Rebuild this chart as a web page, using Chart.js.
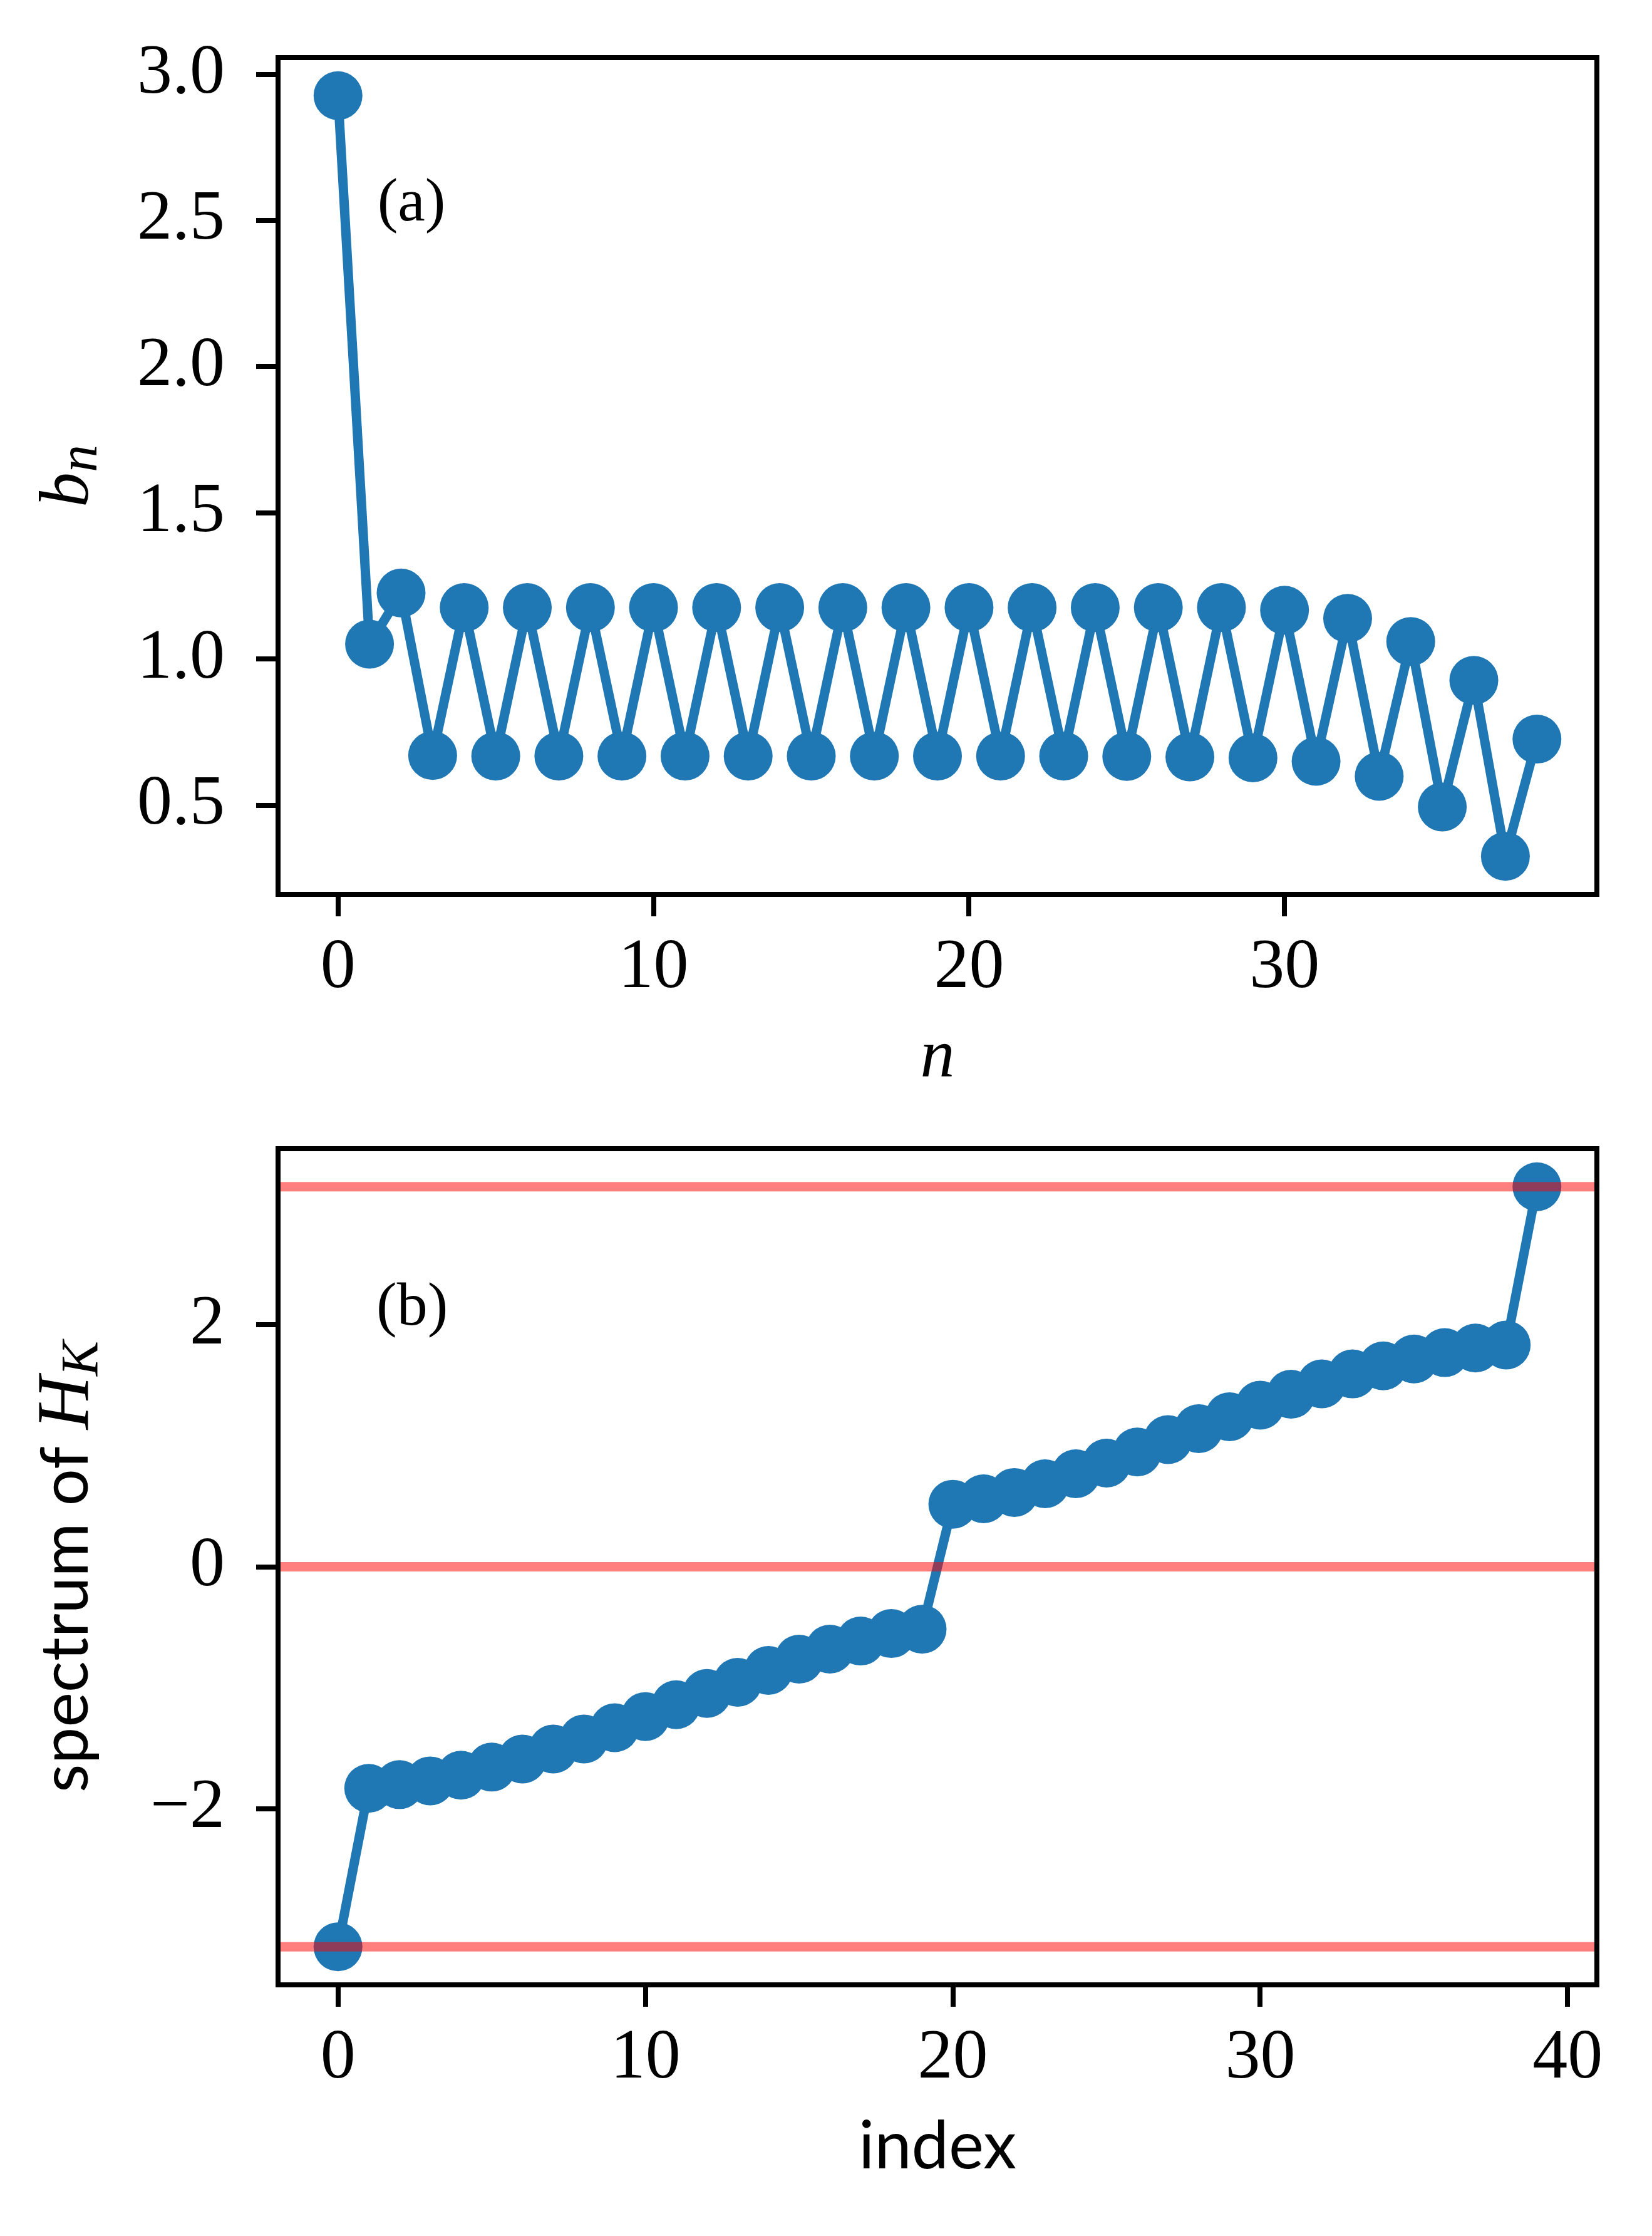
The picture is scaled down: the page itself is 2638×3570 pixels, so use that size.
<!DOCTYPE html>
<html>
<head>
<meta charset="utf-8">
<script src="https://cdn.jsdelivr.net/npm/chart.js@4.4.1/dist/chart.umd.min.js"></script>
<style>
  html, body { margin: 0; padding: 0; background: #fff; }
  .panel { position: absolute; left: 0; }
</style>
</head>
<body>
<div class="panel" style="top:0"><canvas id="chartA" width="2638" height="1790" style="width:2638px;height:1790px"></canvas></div>
<div class="panel" style="top:1790px"><canvas id="chartB" width="2638" height="1780" style="width:2638px;height:1780px"></canvas></div>
<script>
// (a) Lanczos coefficients b_n, n = 0..38
const bn = [2.927, 1.051, 1.226, 0.670, 1.176, 0.668, 1.176, 0.668, 1.176, 0.668,
            1.176, 0.668, 1.176, 0.668, 1.176, 0.668, 1.176, 0.668, 1.176, 0.668,
            1.176, 0.668, 1.176, 0.668, 1.176, 0.667, 1.176, 0.665, 1.176, 0.662,
            1.167, 0.650, 1.139, 0.599, 1.060, 0.494, 0.927, 0.325, 0.726];

// (b) spectrum of H_K, index = 0..39
const spectrum = [-3.1416, -1.831, -1.801, -1.770, -1.723, -1.656, -1.589, -1.507, -1.424, -1.331,
                  -1.238, -1.140, -1.047, -0.955, -0.857, -0.764, -0.681, -0.614, -0.552, -0.516,
                  0.517, 0.562, 0.614, 0.686, 0.769, 0.857, 0.949, 1.051, 1.142, 1.240,
                  1.336, 1.426, 1.512, 1.594, 1.661, 1.718, 1.770, 1.808, 1.833, 3.1416];

// horizontal reference lines in (b): -pi, 0, pi
const hLines = [-3.1416, 0, 3.1416];

const xTicksA = [0, 10, 20, 30];
const yTicksA = [0.5, 1.0, 1.5, 2.0, 2.5, 3.0];
const xTicksB = [0, 10, 20, 30, 40];
const yTicksB = [-2, 0, 2];

const BLUE = '#1f77b4';
const SERIF = '"Liberation Serif", "DejaVu Serif", serif';
const SANS = 'Lato, "Open Sans", sans-serif';

// matplotlib-like 5% margins
function padRange(lo, hi) {
    const m = (hi - lo) * 0.05;
    return [lo - m, hi + m];
}

const toXY = arr => arr.map((v, i) => ({ x: i, y: v }));

function decor(cfg) {
    return {
        id: 'decor',
        afterDraw(chart) {
            const { ctx, chartArea: a, scales } = chart;
            ctx.save();
            // frame (all four spines)
            ctx.strokeStyle = '#000';
            ctx.lineWidth = 8;
            ctx.strokeRect(a.left, a.top, a.right - a.left, a.bottom - a.top);
            // panel tag
            ctx.fillStyle = '#000';
            ctx.font = '98px ' + SERIF;
            ctx.textAlign = 'left';
            ctx.textBaseline = 'alphabetic';
            ctx.fillText(cfg.tag, scales.x.getPixelForValue(cfg.tagAt[0]), scales.y.getPixelForValue(cfg.tagAt[1]));
            // rotated y title made of mixed-font parts
            ctx.translate(cfg.titleX, (a.top + a.bottom) / 2);
            ctx.rotate(-Math.PI / 2);
            let total = 0;
            const widths = cfg.parts.map(p => { ctx.font = p.font; const w = ctx.measureText(p.text).width; total += w; return w; });
            let x = -total / 2;
            cfg.parts.forEach((p, i) => {
                ctx.font = p.font;
                ctx.fillText(p.text, x, p.dy || 0);
                x += widths[i];
            });
            ctx.restore();
        }
    };
}

function axisX(range, ticks, height, title) {
    return {
        type: 'linear',
        min: range[0],
        max: range[1],
        afterBuildTicks: s => { s.ticks = ticks.map(v => ({ value: v })); },
        afterFit: s => { s.height = height; s.paddingLeft = 0; s.paddingRight = 0; },
        grid: { display: true, drawOnChartArea: false, drawTicks: true, tickLength: 35, lineWidth: 8, color: '#000' },
        border: { display: false },
        ticks: { color: '#000', padding: 16, maxRotation: 0, autoSkip: false, font: { family: SERIF, size: 112 },
                 callback: v => String(v) },
        title: title
    };
}

function axisY(range, ticks, fmt) {
    return {
        type: 'linear',
        min: range[0],
        max: range[1],
        afterBuildTicks: s => { s.ticks = ticks.map(v => ({ value: v })); },
        afterFit: s => { s.width = 444; s.paddingTop = 0; s.paddingBottom = 0; },
        grid: { display: true, drawOnChartArea: false, drawTicks: true, tickLength: 35, lineWidth: 8, color: '#000' },
        border: { display: false },
        ticks: { color: '#000', padding: 50, autoSkip: false, font: { family: SERIF, size: 112 }, callback: fmt }
    };
}

const common = {
    responsive: false,
    devicePixelRatio: 1,
    animation: false,
    events: [],
    plugins: { legend: { display: false }, tooltip: { enabled: false } }
};

// ---------- panel (a) ----------
const xRangeA = padRange(0, bn.length - 1);
const yRangeA = padRange(Math.min(...bn), Math.max(...bn));

new Chart(document.getElementById('chartA'), {
    type: 'line',
    data: {
        datasets: [{
            data: toXY(bn),
            borderColor: BLUE,
            backgroundColor: BLUE,
            borderWidth: 15,
            pointRadius: 39,
            pointBorderWidth: 0,
            pointBackgroundColor: BLUE,
            tension: 0,
            clip: false
        }]
    },
    options: Object.assign({}, common, {
        layout: { padding: { top: 92, right: 88, left: 0, bottom: 0 } },
        scales: {
            x: axisX(xRangeA, xTicksA, 362, {
                display: true, text: 'n', color: '#000',
                font: { family: SERIF, size: 110, style: 'italic' },
                padding: { top: 0, bottom: 34 }
            }),
            y: axisY(yRangeA, yTicksA, v => Number(v).toFixed(1))
        }
    }),
    plugins: [decor({
        tag: '(a)', tagAt: [1.25, 2.5], titleX: 140,
        parts: [
            { text: 'b', font: 'italic 112px ' + SERIF },
            { text: 'n', font: 'italic 88px ' + SERIF, dy: 14 }
        ]
    })]
});

// ---------- panel (b) ----------
const xRangeB = padRange(0, spectrum.length - 1);
const yRangeB = padRange(Math.min(...spectrum, ...hLines), Math.max(...spectrum, ...hLines));

const redSets = hLines.map(h => ({
    data: [{ x: xRangeB[0], y: h }, { x: xRangeB[1], y: h }],
    borderColor: 'rgba(255, 0, 0, 0.5)',
    borderWidth: 15,
    pointRadius: 0,
    tension: 0
}));

new Chart(document.getElementById('chartB'), {
    type: 'line',
    data: {
        datasets: redSets.concat([{
            data: toXY(spectrum),
            borderColor: BLUE,
            backgroundColor: BLUE,
            borderWidth: 15,
            pointRadius: 39,
            pointBorderWidth: 0,
            pointBackgroundColor: BLUE,
            tension: 0,
            clip: false
        }])
    },
    options: Object.assign({}, common, {
        layout: { padding: { top: 44, right: 88, left: 0, bottom: 0 } },
        scales: {
            x: axisX(xRangeB, xTicksB, 401, {
                display: true, text: 'index', color: '#000',
                font: { family: SANS, size: 106 },
                padding: { top: 0, bottom: 79 }
            }),
            y: axisY(yRangeB, yTicksB, v => (v < 0 ? '\u2212' + Math.abs(v) : String(v)))
        }
    }),
    plugins: [decor({
        tag: '(b)', tagAt: [1.25, 2.0], titleX: 140,
        parts: [
            { text: 'spectrum of ', font: '105px ' + SANS },
            { text: 'H', font: 'italic 118px ' + SERIF },
            { text: 'K', font: 'italic 84px ' + SERIF, dy: 16 }
        ]
    })]
});
</script>
</body>
</html>
